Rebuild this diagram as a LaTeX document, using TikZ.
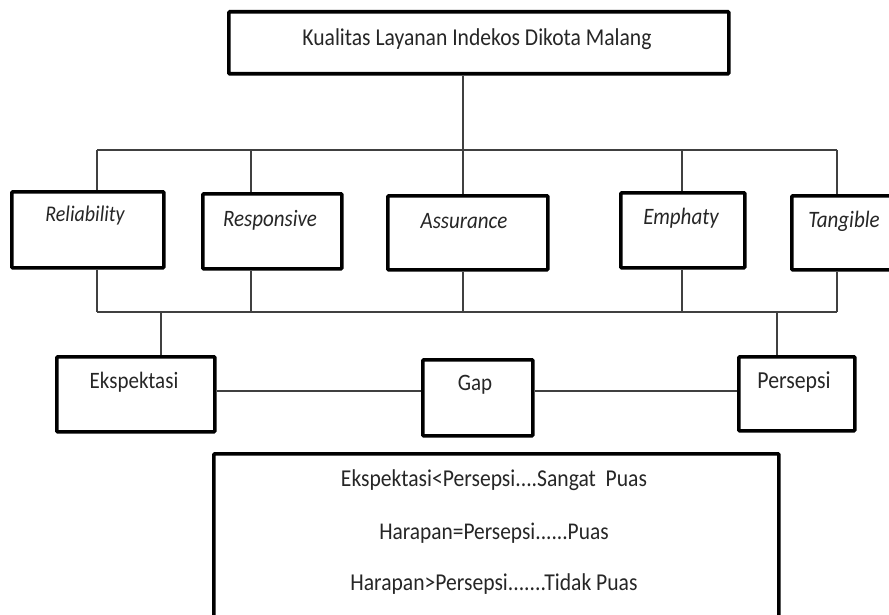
\documentclass[tikz,border=0pt]{standalone}
\usepackage{fontspec}
\setmainfont{Carlito}
\usetikzlibrary{calc}
% slightly tall lettering
\newcommand\talltext[1]{\scalebox{1}[1.12]{#1}}
\begin{document}
\begin{tikzpicture}[x=1pt,y=-1pt,
  box/.style={draw=black,line width=3.6pt,rounded corners=1pt,inner sep=0pt,anchor=north west},
  wire/.style={draw=black!75,line width=1.3pt},
  lbl/.style={inner sep=0pt,font=\fontsize{21}{25}\selectfont,text=black!85},
  dim/.style={lbl,font=\fontsize{21}{25}\selectfont\itshape}]
\clip (0,0) rectangle (889,615);
\useasboundingbox (0,0) rectangle (889,615);

% title box
\node[box,minimum width=500pt,minimum height=62pt] (top) at (227,10) {};
\node[lbl,font=\fontsize{21.6}{25}\selectfont] (toptxt) at (477,39) {\talltext{Kualitas Layanan Indekos Dikota Malang}};

% five service-quality dimensions
\node[box,minimum width=152pt,minimum height=76pt] (rel) at (10,190) {};
\node[box,minimum width=139pt,minimum height=75pt] (res) at (201,192) {};
\node[box,minimum width=160pt,minimum height=74pt] (ass) at (386,194) {};
\node[box,minimum width=124pt,minimum height=75pt] (emp) at (619,191) {};
\node[box,minimum width=110pt,minimum height=74pt] (tan) at (790,194) {};
\node[dim,font=\fontsize{20}{24}\selectfont\itshape] (reltxt) at (85,216) {\talltext{Reliability}};
\node[dim] (restxt) at (270,220) {\talltext{Responsive}};
\node[dim] (asstxt) at (464,221) {\talltext{Assurance}};
\node[dim] (emptxt) at (681,218) {\talltext{Emphaty}};
\node[dim] (tantxt) at (844,221) {\talltext{Tangible}};

% gap model
\node[box,minimum width=158pt,minimum height=75pt] (eks) at (55,355) {};
\node[box,minimum width=110pt,minimum height=76pt] (gap) at (421,358) {};
\node[box,minimum width=116pt,minimum height=74pt] (per) at (737,355) {};
\node[lbl] (ekstxt) at (134,382) {\talltext{Ekspektasi}};
\node[lbl] (gaptxt) at (475,385) {\talltext{Gap}};
\node[lbl,font=\fontsize{21.8}{25}\selectfont] (pertxt) at (794,382) {\talltext{Persepsi}};

% satisfaction criteria
\node[box,minimum width=565pt,minimum height=200pt] (res2) at (212,452) {};
\node[lbl,font=\fontsize{21.6}{25}\selectfont] (c1) at (494,480) {\talltext{Ekspektasi<Persepsi....Sangat\ \ Puas}};
\node[lbl,font=\fontsize{21.4}{25}\selectfont] (c2) at (494,533) {\talltext{Harapan=Persepsi......Puas}};
\node[lbl,font=\fontsize{21.6}{25}\selectfont] (c3) at (494,584) {\talltext{Harapan>Persepsi.......Tidak\ Puas}};

% taps on the upper and lower bus lines
\coordinate (t1) at (97,150);  \coordinate (t2) at (251,150);
\coordinate (t3) at (463,150); \coordinate (t4) at (682,150);
\coordinate (t5) at (837,150);
\coordinate (b1) at (97,312);  \coordinate (b2) at (251,312);
\coordinate (b3) at (463,312); \coordinate (b4) at (682,312);
\coordinate (b5) at (837,312);
\coordinate (be) at (161,312); \coordinate (bp) at (777,312);

\draw[wire] (top.south -| t3) -- (t3);
\draw[wire] (t1) -- (t5);
\draw[wire] (t1) -- (t1 |- rel.north);
\draw[wire] (t2) -- (t2 |- res.north);
\draw[wire] (t3) -- (t3 |- ass.north);
\draw[wire] (t4) -- (t4 |- emp.north);
\draw[wire] (t5) -- (t5 |- tan.north);
\draw[wire] (rel.south -| b1) -- (b1);
\draw[wire] (res.south -| b2) -- (b2);
\draw[wire] (ass.south -| b3) -- (b3);
\draw[wire] (emp.south -| b4) -- (b4);
\draw[wire] (tan.south -| b5) -- (b5);
\draw[wire] (b1) -- (b5);
\draw[wire] (be) -- (be |- eks.north);
\draw[wire] (bp) -- (bp |- per.north);
\draw[wire] (eks.east |- 0,391) -- (gap.west |- 0,391);
\draw[wire] (gap.east |- 0,391) -- (per.west |- 0,391);
\end{tikzpicture}
\end{document}
